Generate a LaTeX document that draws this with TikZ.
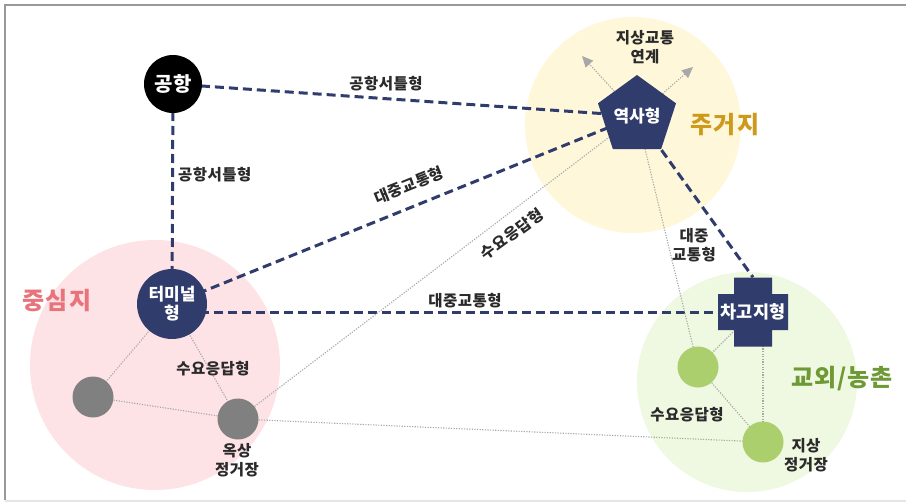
\documentclass[tikz,border=0pt]{standalone}
\usepackage{fontspec}
\setmainfont{Noto Sans CJK KR}
\usetikzlibrary{shapes.geometric, arrows.meta, calc}
\pgfdeclarelayer{bg}
\pgfdeclarelayer{edges}
\pgfdeclarelayer{shapes}
\pgfsetlayers{bg,edges,shapes,main}
\definecolor{navy}{HTML}{2F3C6C}
\definecolor{labelc}{HTML}{2A2A2A}
\definecolor{pinkfill}{HTML}{FDE3E5}
\definecolor{yellowfill}{HTML}{FFF7DA}
\definecolor{greenfill}{HTML}{EFF8E0}
\definecolor{pinktext}{HTML}{E8737B}
\definecolor{goldtext}{HTML}{CF9A1C}
\definecolor{greentext}{HTML}{6E9A35}
\definecolor{graynode}{HTML}{808080}
\definecolor{greennode}{HTML}{AACF6C}
\definecolor{dotc}{HTML}{A8A8A8}
\tikzset{
  dashedge/.style={draw=navy, line width=3pt, dash pattern=on 9pt off 5pt},
  dotedge/.style={draw=dotc, line width=1.1pt, dash pattern=on 1.2pt off 1.4pt},
  lbl/.style={font=\bfseries\fontsize{15.5}{18.5}\selectfont\addfontfeatures{LetterSpace=3}, text=labelc, align=center, inner sep=0pt},
  region/.style={font=\bfseries\fontsize{24}{26}\selectfont\addfontfeatures{LetterSpace=4}, inner sep=0pt},
  whitetext/.style={text=white, align=center, inner sep=0pt},
  smallnode/.style={circle, minimum size=41pt, inner sep=0pt},
  tipedge/.style={dotedge, -{Triangle[length=11pt,width=10pt,fill=dotc]}}
}
\begin{document}
\begin{tikzpicture}[x=1pt, y=-1pt]
\useasboundingbox (0,0) rectangle (906,503);

% region circles
\begin{pgfonlayer}{bg}
\fill[white] (0,0) rectangle (906,503);
\draw[draw=gray!80, line width=1.5pt] (5,500) -- (5,5) -- (906,5);
\draw[draw=gray!20, line width=1.5pt] (5,501) -- (906,501);
\fill[pinkfill] (155,365) circle[radius=125];
\fill[yellowfill] (633,125) circle[radius=108];
\fill[greenfill] (747,382) circle[radius=110];
\end{pgfonlayer}

% nodes
\node[circle, fill=black, minimum size=58pt, whitetext, font=\bfseries\fontsize{20}{22}\selectfont] (A) at (173,84) {공항};
\node[circle, fill=navy, minimum size=70pt, whitetext, font=\bfseries\fontsize{17}{19}\selectfont] (T) at (172,304) {터미널\\형};
\node[regular polygon, regular polygon sides=5, fill=navy, minimum size=76pt, whitetext, font=\bfseries\fontsize{17}{18}\selectfont] (P) at (637,116) {역사형};
\node[minimum width=70pt, minimum height=69pt, whitetext, font=\bfseries\fontsize{17.5}{18}\selectfont] (C) at (753,312) {차고지형};
\begin{pgfonlayer}{shapes}
\begin{scope}[shift={(C.center)}]
\fill[navy] (-19,-34.5) -- (19,-34.5) -- (19,-18) -- (35,-18) -- (35,18) -- (19,18) -- (19,34.5) -- (-19,34.5) -- (-19,18) -- (-35,18) -- (-35,-18) -- (-19,-18) -- cycle;
\end{scope}
\end{pgfonlayer}
\node[smallnode, fill=graynode] (G1) at (93,397) {};
\node[smallnode, fill=graynode] (G2) at (238,419) {};
\node[smallnode, fill=greennode] (N1) at (698,367) {};
\node[smallnode, fill=greennode] (N2) at (763,442) {};
\coordinate (tL) at (582,56);
\coordinate (tR) at (693,67);

% connectors
\begin{pgfonlayer}{edges}
\draw[dashedge] (A.center) -- (P.center);
\draw[dashedge] (A.center) -- (T.center);
\draw[dashedge] (T.center) -- (P.center);
\draw[dashedge] (C.center -| T.center) -- (C.center);
\draw[dashedge] (P.center) -- (C.north);
\draw[dotedge] (T.center) -- (G1.center);
\draw[dotedge] (T.center) -- (G2.center);
\draw[dotedge] (G1.center) -- (G2.center);
\draw[dotedge] (G2.center) -- (P.center);
\draw[dotedge] (G2.center) -- (N2.center);
\draw[dotedge] (P.center) -- (N1.center);
\draw[dotedge] (C.center) -- (N1.center);
\draw[dotedge] (C.center -| N2.center) -- (N2.center);
\draw[dotedge] (N1.center) -- (N2.center);
\draw[tipedge] (P.center) -- (tL);
\draw[tipedge] (P.center) -- (tR);
\end{pgfonlayer}

% labels
\node[lbl] (l1) at (386,84) {공항서틀형};
\node[lbl, anchor=west] (l2) at (178,175) {공항서틀형};
\node[lbl, rotate=22] (l3) at (409,185) {대중교통형};
\node[lbl, rotate=36] (l4) at (512,234) {수요응답형};
\node[lbl] (l5) at (465,301) {대중교통형};
\node[lbl] (l6) at (694,245) {대중\\교통형};
\node[lbl] (l7) at (213,369) {수요응답형};
\node[lbl] (l8) at (237,460) {옥상\\정거장};
\node[lbl] (l9) at (687,415) {수요응답형};
\node[lbl] (l10) at (806,455) {지상\\정거장};
\node[lbl] (l11) at (645,47) {지상교통\\연계};
\node[region, text=pinktext] (r1) at (57,301) {중심지};
\node[region, text=goldtext] (r2) at (725,125) {주거지};
\node[region, text=greentext] (r3) at (842,379) {교외/농촌};
\end{tikzpicture}
\end{document}
